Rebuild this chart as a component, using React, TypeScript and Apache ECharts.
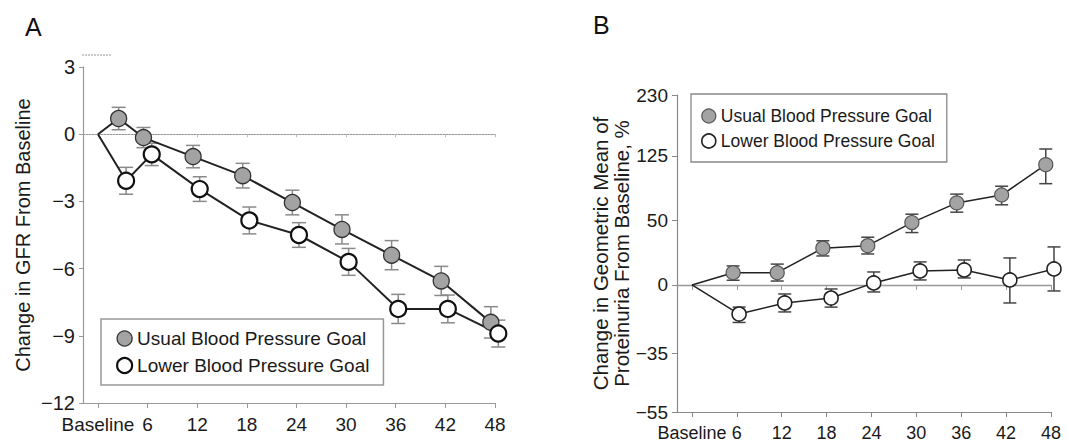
import React, { useEffect, useRef } from 'react';
import * as echarts from 'echarts';

// ---------- Data ----------
const tickMonths = [0, 6, 12, 18, 24, 30, 36, 42, 48];
const protYTicks = [-55, -35, 0, 50, 125, 230];

// Panel A: change in GFR from baseline
const gfrUsualMonths = [0, 2.5, 5.5, 11.5, 17.5, 23.5, 29.5, 35.5, 41.5, 47.5];
const gfrUsual = [0, 0.7, -0.15, -1.0, -1.85, -3.05, -4.25, -5.4, -6.55, -8.4];
const gfrUsualErr = [0, 0.5, 0.45, 0.5, 0.55, 0.55, 0.65, 0.65, 0.65, 0.7];
const gfrLowerMonths = [0, 3.4, 6.5, 12.3, 18.3, 24.3, 30.3, 36.3, 42.3, 48.4];
const gfrLower = [0, -2.08, -0.9, -2.45, -3.85, -4.5, -5.7, -7.8, -7.8, -8.9];
const gfrLowerErr = [0, 0.6, 0.5, 0.55, 0.6, 0.55, 0.6, 0.65, 0.62, 0.6];

// Panel B: change in geometric mean of proteinuria (%)
const protUsualMonths = [0, 5.5, 11.4, 17.5, 23.5, 29.4, 35.4, 41.4, 47.3];
const protUsual = [0, 8, 8, 26, 28, 48, 67.5, 76, 113];
const protUsualLow = [0, 3, 2.5, 20, 21.5, 39, 58, 65.5, 89];
const protUsualHigh = [0, 12.7, 14, 32, 35, 56, 77, 86, 135];
const protLowerMonths = [0, 6.3, 12.4, 18.6, 24.3, 30.5, 36.4, 42.5, 48.4];
const protLower = [0, -16.7, -10.7, -7.9, 1.3, 9.2, 9.9, 3.2, 10.6];
const protLowerLow = [0, -21, -15.6, -13, -4.3, 3.2, 4.5, -10.7, -3.7];
const protLowerHigh = [0, -13, -5.5, -2.5, 8.5, 15.6, 17, 18.5, 27];

const USUAL = 'Usual Blood Pressure Goal';
const LOWER = 'Lower Blood Pressure Goal';

const FONT = '"Liberation Sans", Arial, Helvetica, sans-serif';
const toLog = (v: number) => Math.log10(1 + v / 100);
const fromLog = (v: number) => Math.round((Math.pow(10, v) - 1) * 100);
const minus = (v: number) => (v < 0 ? '\u2212' + Math.abs(v) : String(v));

const lineData = (months: number[], vals: number[], f: (v: number) => number) =>
  months.map((m, i) => (i === 0 ? { value: [m, f(vals[i])], symbol: 'none' } : [m, f(vals[i])]));

const errRender = (cap: number, color: string) => (params: any, api: any) => {
  const x = api.value(0);
  const p1 = api.coord([x, api.value(1)]);
  const p2 = api.coord([x, api.value(2)]);
  const style = { stroke: color, lineWidth: 1.5 };
  return {
    type: 'group',
    children: [
      { type: 'line', shape: { x1: p1[0], y1: p1[1], x2: p2[0], y2: p2[1] }, style },
      { type: 'line', shape: { x1: p1[0] - cap / 2, y1: p1[1], x2: p1[0] + cap / 2, y2: p1[1] }, style },
      { type: 'line', shape: { x1: p2[0] - cap / 2, y1: p2[1], x2: p2[0] + cap / 2, y2: p2[1] }, style },
    ],
  };
};

export default function App() {
  const ref = useRef<HTMLDivElement>(null);
  useEffect(() => {
    document.body.style.margin = '0';
    const chart = echarts.init(ref.current!, null, { renderer: 'svg' });

    const usualItemA = { color: '#a3a3a3', borderColor: '#333', borderWidth: 1.3 };
    const lowerItemA = { color: '#ffffff', borderColor: '#111', borderWidth: 2.2 };
    const usualItemB = { color: '#a3a3a3', borderColor: '#555', borderWidth: 1.2 };
    const lowerItemB = { color: '#ffffff', borderColor: '#222', borderWidth: 1.6 };

    const axisLineA = { lineStyle: { color: '#999', width: 1.2 } };
    const axisLineB = { lineStyle: { color: '#888', width: 1.2 } };

    const option: any = {
      animation: false,
      textStyle: { fontFamily: FONT },
      graphic: [
        { type: 'text', left: 25, top: 14, style: { text: 'A', fontSize: 25, fontFamily: FONT, fill: '#111' } },
        { type: 'text', left: 593, top: 12, style: { text: 'B', fontSize: 25, fontFamily: FONT, fill: '#111' } },
        {
          type: 'line',
          shape: { x1: 82, y1: 55, x2: 112, y2: 55 },
          style: { stroke: '#999', lineWidth: 1, lineDash: [2, 1] },
        },
      ],
      legend: [
        {
          orient: 'vertical',
          left: 101,
          top: 319,
          padding: [10, 14, 10, 15],
          itemGap: 8,
          itemWidth: 15,
          itemHeight: 15,
          borderColor: '#999',
          borderWidth: 1.5,
          selectedMode: false,
          textStyle: { fontSize: 19, color: '#1a1a1a', fontFamily: FONT },
          data: [
            { name: USUAL, icon: 'circle', itemStyle: usualItemA },
            { name: LOWER, icon: 'circle', itemStyle: lowerItemA },
          ],
        },
        {
          orient: 'vertical',
          left: 691,
          top: 94,
          padding: [13, 12, 12, 10],
          itemGap: 7,
          itemWidth: 14,
          itemHeight: 14,
          borderColor: '#888',
          borderWidth: 1.3,
          selectedMode: false,
          textStyle: { fontSize: 17.5, color: '#1a1a1a', fontFamily: FONT },
          data: [
            { name: USUAL, icon: 'circle', itemStyle: usualItemB },
            { name: LOWER, icon: 'circle', itemStyle: lowerItemB },
          ],
        },
      ],
      grid: [
        { left: 83, top: 67, width: 412, height: 336 },
        { left: 677, top: 95, width: 374, height: 317 },
      ],
      xAxis: [
        {
          gridIndex: 0,
          type: 'value',
          min: -1.81,
          max: 48,
          position: 'bottom',
          axisLine: { onZero: false, ...axisLineA },
          axisTick: { customValues: tickMonths, length: 5, lineStyle: { color: '#999' } },
          axisLabel: {
            customValues: tickMonths,
            formatter: (v: number) => (v === 0 ? 'Baseline' : String(v)),
            fontSize: 19,
            color: '#1a1a1a',
            margin: 12,
          },
          splitLine: { show: false },
        },
        {
          gridIndex: 0,
          type: 'value',
          min: -1.81,
          max: 48,
          position: 'bottom',
          axisLine: { onZero: true, lineStyle: { color: '#999', width: 1, type: [2, 1] } },
          axisTick: { customValues: tickMonths, length: 3, lineStyle: { color: '#bbb' } },
          axisLabel: { show: false },
          splitLine: { show: false },
        },
        {
          gridIndex: 1,
          type: 'value',
          min: -2,
          max: 48,
          position: 'bottom',
          axisLine: { onZero: false, ...axisLineB },
          axisTick: { customValues: tickMonths, length: 5, lineStyle: { color: '#888' } },
          axisLabel: {
            customValues: tickMonths,
            formatter: (v: number) => (v === 0 ? 'Baseline' : String(v)),
            fontSize: 18,
            color: '#1a1a1a',
            margin: 12,
          },
          splitLine: { show: false },
        },
        {
          gridIndex: 1,
          type: 'value',
          min: -2,
          max: 48,
          position: 'bottom',
          axisLine: { onZero: true, lineStyle: { color: '#999', width: 1.3 } },
          axisTick: { customValues: tickMonths, length: 5, lineStyle: { color: '#999' } },
          axisLabel: { show: false },
          splitLine: { show: false },
        },
      ],
      yAxis: [
        {
          gridIndex: 0,
          type: 'value',
          min: -12,
          max: 3,
          interval: 3,
          axisLine: { show: true, onZero: false, ...axisLineA },
          axisTick: { show: true, length: 4, lineStyle: { color: '#999' } },
          axisLabel: { formatter: minus, fontSize: 20, color: '#1a1a1a', margin: 8 },
          splitLine: { show: false },
          name: 'Change in GFR From Baseline',
          nameLocation: 'middle',
          nameGap: 50,
          nameTextStyle: { fontSize: 20, color: '#1a1a1a', fontFamily: FONT },
        },
        {
          gridIndex: 1,
          type: 'value',
          min: toLog(-55),
          max: toLog(230),
          axisLine: { show: true, onZero: false, ...axisLineB },
          axisTick: { show: true, length: 5, customValues: protYTicks.map(toLog), lineStyle: { color: '#888' } },
          axisLabel: {
            customValues: protYTicks.map(toLog),
            formatter: (v: number) => minus(fromLog(v)),
            fontSize: 19,
            color: '#1a1a1a',
            margin: 9,
          },
          splitLine: { show: false },
          name: 'Change in Geometric Mean of\nProteinuria From Baseline, %',
          nameLocation: 'middle',
          nameGap: 45,
          nameTextStyle: { fontSize: 20.5, lineHeight: 21, color: '#1a1a1a', fontFamily: FONT },
        },
      ],
      series: [
        // Panel A error bars
        {
          type: 'custom',
          name: 'errAUsual',
          xAxisIndex: 0,
          yAxisIndex: 0,
          z: 1,
          renderItem: errRender(14, '#8a8a8a'),
          data: gfrUsualMonths.slice(1).map((m, i) => [m, gfrUsual[i + 1] - gfrUsualErr[i + 1], gfrUsual[i + 1] + gfrUsualErr[i + 1]]),
        },
        {
          type: 'custom',
          name: 'errALower',
          xAxisIndex: 0,
          yAxisIndex: 0,
          z: 1,
          renderItem: errRender(14, '#8a8a8a'),
          data: gfrLowerMonths.slice(1).map((m, i) => [m, gfrLower[i + 1] - gfrLowerErr[i + 1], gfrLower[i + 1] + gfrLowerErr[i + 1]]),
        },
        {
          type: 'line',
          name: USUAL,
          xAxisIndex: 0,
          yAxisIndex: 0,
          z: 3,
          clip: false,
          symbol: 'circle',
          symbolSize: 16,
          lineStyle: { color: '#222', width: 2 },
          itemStyle: usualItemA,
          data: lineData(gfrUsualMonths, gfrUsual, (v) => v),
        },
        {
          type: 'line',
          name: LOWER,
          xAxisIndex: 0,
          yAxisIndex: 0,
          z: 3,
          clip: false,
          symbol: 'circle',
          symbolSize: 16,
          lineStyle: { color: '#222', width: 2 },
          itemStyle: lowerItemA,
          data: lineData(gfrLowerMonths, gfrLower, (v) => v),
        },
        // Panel B error bars
        {
          type: 'custom',
          name: 'errBUsual',
          xAxisIndex: 2,
          yAxisIndex: 1,
          z: 1,
          renderItem: errRender(13, '#444'),
          data: protUsualMonths.slice(1).map((m, i) => [m, toLog(protUsualLow[i + 1]), toLog(protUsualHigh[i + 1])]),
        },
        {
          type: 'custom',
          name: 'errBLower',
          xAxisIndex: 2,
          yAxisIndex: 1,
          z: 1,
          renderItem: errRender(13, '#444'),
          data: protLowerMonths.slice(1).map((m, i) => [m, toLog(protLowerLow[i + 1]), toLog(protLowerHigh[i + 1])]),
        },
        {
          type: 'line',
          name: USUAL,
          xAxisIndex: 2,
          yAxisIndex: 1,
          z: 3,
          clip: false,
          symbol: 'circle',
          symbolSize: 14,
          lineStyle: { color: '#222', width: 1.5 },
          itemStyle: usualItemB,
          data: lineData(protUsualMonths, protUsual, toLog),
        },
        {
          type: 'line',
          name: LOWER,
          xAxisIndex: 2,
          yAxisIndex: 1,
          z: 3,
          clip: false,
          symbol: 'circle',
          symbolSize: 14,
          lineStyle: { color: '#222', width: 1.5 },
          itemStyle: lowerItemB,
          data: lineData(protLowerMonths, protLower, toLog),
        },
      ],
    };

    chart.setOption(option);
    return () => chart.dispose();
  }, []);

  return <div ref={ref} style={{ width: 1067, height: 442 }} />;
}
